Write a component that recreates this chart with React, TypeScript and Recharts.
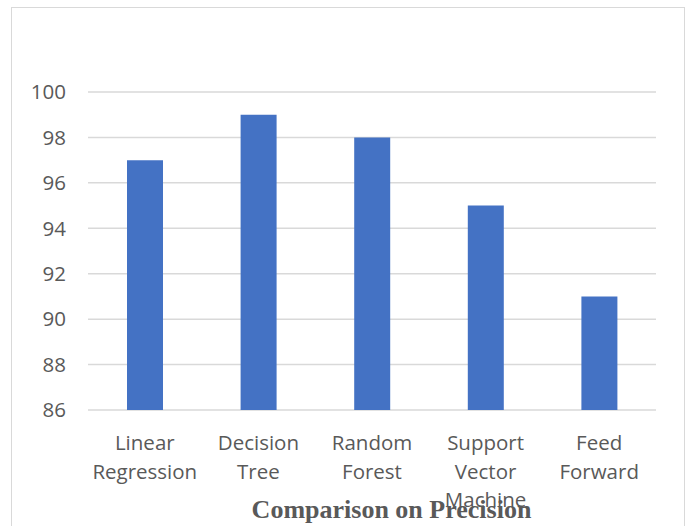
import React from "react";
import { BarChart, Bar, XAxis, YAxis, CartesianGrid } from "recharts";

const models = [
  "Linear Regression",
  "Decision Tree",
  "Random Forest",
  "Support Vector Machine",
  "Feed Forward",
];
const precision = [97, 99, 98, 95, 91];
const yTicks = [86, 88, 90, 92, 94, 96, 98, 100];

const data = models.map((name, i) => ({ name, precision: precision[i] }));

const TEXT = "#595959";
const GRID = "#d9d9d9";
const FONT = "'Open Sans', sans-serif";

// category labels wrap one word per line, like the office chart style
function ModelTick(props: any) {
  const { x, y, payload } = props;
  const words: string[] = String(payload.value).split(" ");
  return (
    <text
      x={x}
      y={y}
      textAnchor="middle"
      fill={TEXT}
      fontFamily={FONT}
      fontSize={20.5}
    >
      {words.map((w, i) => (
        <tspan key={i} x={x} y={y + 40 + i * 28.5}>
          {w}
        </tspan>
      ))}
    </text>
  );
}

export default function App() {
  return (
    <div
      style={{
        position: "absolute",
        left: 0,
        top: 0,
        width: 689,
        height: 526,
        overflow: "hidden",
        background: "#fff",
      }}
    >
      <div
        style={{
          position: "absolute",
          left: 11,
          top: 7,
          width: 672,
          height: 540,
          border: `1px solid ${GRID}`,
        }}
      />
      <BarChart
        width={689}
        height={526}
        data={data}
        margin={{ top: 92, right: 33, left: 0, bottom: 0 }}
        style={{ position: "absolute", left: 0, top: 0 }}
      >
        <CartesianGrid vertical={false} stroke={GRID} strokeWidth={1.5} />
        <XAxis
          dataKey="name"
          height={116}
          axisLine={false}
          tickLine={false}
          tickSize={0}
          tickMargin={0}
          interval={0}
          tick={<ModelTick />}
        />
        <YAxis
          width={88}
          domain={[86, 100]}
          ticks={yTicks}
          axisLine={false}
          tickLine={false}
          tickSize={0}
          tickMargin={22}
          tick={{ fill: TEXT, fontFamily: FONT, fontSize: 20.5 }}
        />
        <Bar
          dataKey="precision"
          fill="#4472C4"
          barSize={36}
          isAnimationActive={false}
        />
      </BarChart>
      <div
        style={{
          position: "absolute",
          left: 0,
          width: 783,
          top: 494,
          textAlign: "center",
          fontFamily: "'Liberation Serif', 'Times New Roman', serif",
          fontWeight: "bold",
          fontSize: 26,
          color: TEXT,
          lineHeight: "32px",
        }}
      >
        Comparison on Precision
      </div>
    </div>
  );
}
